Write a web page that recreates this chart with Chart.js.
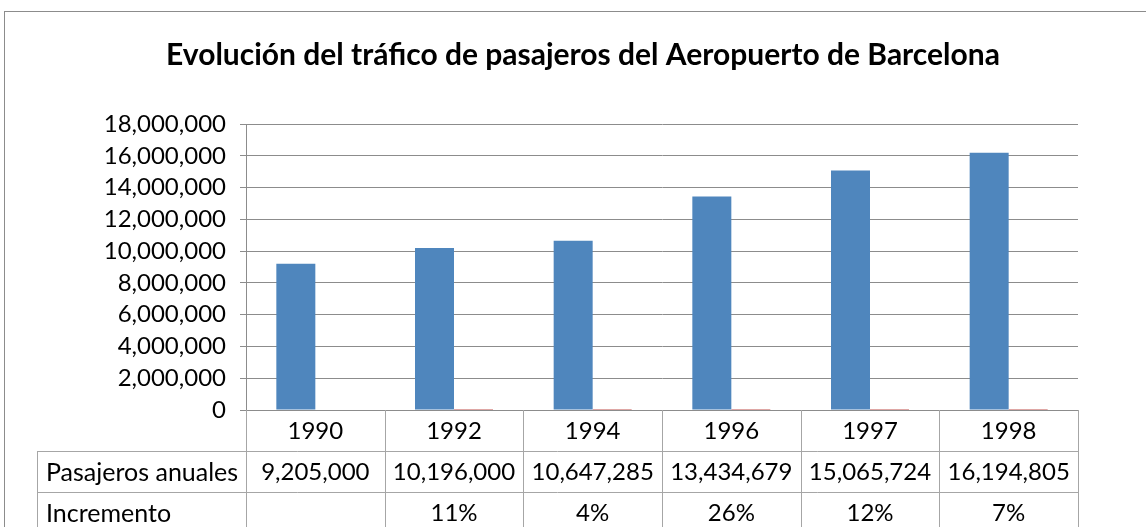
<!DOCTYPE html>
<html>
<head>
<meta charset="utf-8">
<script src="https://cdn.jsdelivr.net/npm/chart.js@4/dist/chart.umd.min.js"></script>
<style>
  body { margin: 0; background: #fff; }
  canvas { display: block; }
</style>
</head>
<body>
<canvas id="grafica" width="1146" height="527"></canvas>
<script>
// Datos
const anios = ['1990', '1992', '1994', '1996', '1997', '1998'];
const pasajeros = [9205000, 10196000, 10647285, 13434679, 15065724, 16194805];
const incremento = [null, 11, 4, 26, 12, 7]; // en %
const etiquetasFilas = ['Pasajeros anuales', 'Incremento'];

const FUENTE = 'Lato, "Open Sans", sans-serif';
const GRIS = '#8c8c8c';
const formato = v => v.toLocaleString('en-US');
const formatoPct = v => (v === null ? '' : `${v}%`);

// Marco exterior y tabla de datos bajo el eje
const tablaDatos = {
    id: 'tablaDatos',
    beforeDraw(chart) {
        const ctx = chart.ctx;
        ctx.save();
        ctx.strokeStyle = GRIS;
        ctx.lineWidth = 1;
        ctx.strokeRect(4.5, 11.5, chart.width + 20, chart.height + 20);
        ctx.restore();
    },
    afterDraw(chart) {
        const ctx = chart.ctx;
        const area = chart.chartArea;
        const x = chart.scales.x;
        const ancho = (area.right - area.left) / anios.length;
        const alto = 41;
        const izq = 37;
        const y0 = area.bottom;

        ctx.save();
        ctx.strokeStyle = '#a6a6a6';
        ctx.lineWidth = 1;
        ctx.beginPath();
        // líneas horizontales
        for (let r = 1; r <= 3; r++) {
            const y = Math.round(y0 + alto * r) + 0.5;
            ctx.moveTo(izq, y);
            ctx.lineTo(area.right, y);
        }
        // líneas verticales de columnas
        for (let c = 0; c <= anios.length; c++) {
            const xc = Math.round(area.left + ancho * c) + 0.5;
            ctx.moveTo(xc, y0);
            ctx.lineTo(xc, y0 + alto * 3 + 5);
        }
        ctx.moveTo(izq + 0.5, y0 + alto);
        ctx.lineTo(izq + 0.5, y0 + alto * 3 + 5);
        ctx.stroke();

        ctx.fillStyle = '#000';
        ctx.font = '24px ' + FUENTE;
        ctx.textBaseline = 'middle';
        ctx.textAlign = 'center';
        anios.forEach((a, i) => {
            const cx = x.getPixelForValue(i);
            ctx.fillText(a, cx, y0 + alto * 0.5 + 1);
            ctx.fillText(formato(pasajeros[i]), cx, y0 + alto * 1.5 + 1);
            ctx.fillText(formatoPct(incremento[i]), cx, y0 + alto * 2.5 + 1);
        });
        ctx.textAlign = 'left';
        ctx.font = '25px ' + FUENTE;
        etiquetasFilas.forEach((t, i) => {
            ctx.fillText(t, izq + 9, y0 + alto * (i + 1.5) + 1);
        });
        ctx.restore();
    }
};

const grafica = new Chart(document.getElementById('grafica'), {
    type: 'bar',
    data: {
        labels: anios,
        datasets: [{
            label: 'Pasajeros anuales',
            data: pasajeros,
            backgroundColor: '#4f86bd',
            categoryPercentage: 0.5625,
            barPercentage: 1
        }, {
            // segunda serie de Excel: fracciones, invisibles a esta escala
            label: 'Incremento',
            data: incremento.map(v => (v === null ? null : v / 100)),
            backgroundColor: '#c0504d',
            categoryPercentage: 0.5625,
            barPercentage: 1
        }]
    },
    options: {
        responsive: false,
        animation: false,
        layout: { padding: { left: 88, right: 68, top: 0, bottom: 117 } },
        plugins: {
            legend: { display: false },
            tooltip: { enabled: false },
            title: {
                display: true,
                text: 'Evolución del tráfico de pasajeros del Aeropuerto de Barcelona',
                color: '#000',
                font: { family: FUENTE, size: 30, weight: 'bold' },
                padding: { top: 37, bottom: 51 }
            }
        },
        scales: {
            x: { display: false },
            y: {
                min: 0,
                max: 18000000,
                afterFit: s => { s.width = 158; },
                ticks: {
                    stepSize: 2000000,
                    autoSkip: false,
                    color: '#000',
                    padding: 14,
                    font: { family: FUENTE, size: 24 },
                    callback: v => formato(v)
                },
                grid: { color: GRIS, tickLength: 6 },
                border: { color: GRIS }
            }
        }
    },
    plugins: [tablaDatos]
});
</script>
</body>
</html>
